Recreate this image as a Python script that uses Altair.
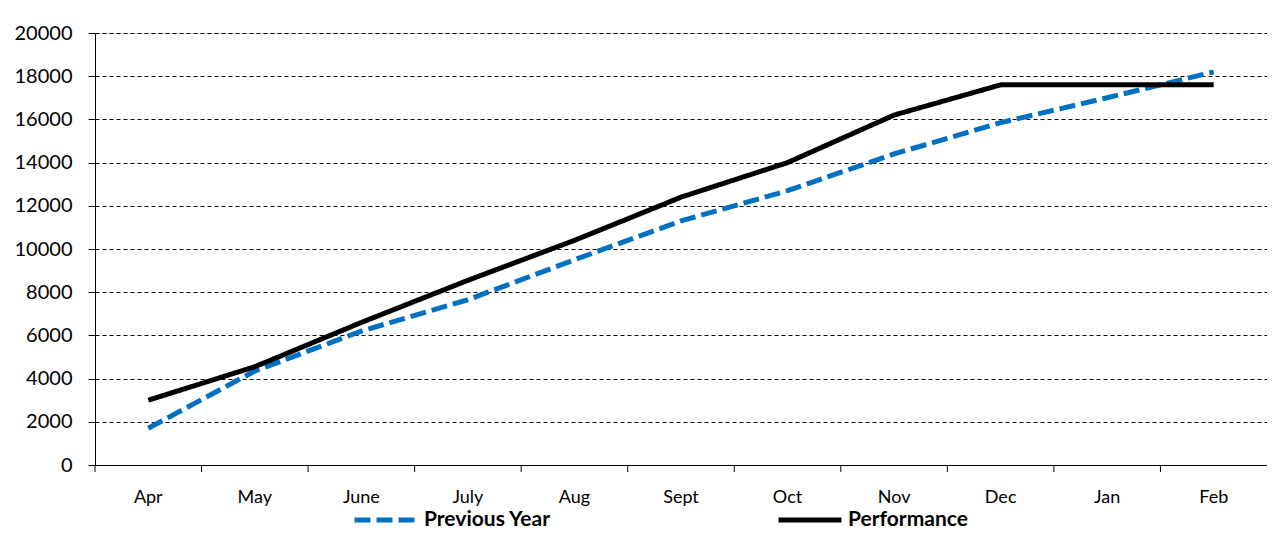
import altair as alt
import pandas as pd

months = ["Apr", "May", "June", "July", "Aug", "Sept", "Oct", "Nov", "Dec", "Jan", "Feb"]
previous_year = [1700, 4350, 6200, 7650, 9500, 11300, 12700, 14400, 15850, 17000, 18200]
performance = [3000, 4550, 6600, 8550, 10400, 12400, 14000, 16200, 17600, 17600, 17600]
series = ["Previous Year", "Performance"]
y_ticks = list(range(0, 20001, 2000))

rows = []
for m, v in zip(months, previous_year):
    rows.append({"month": m, "value": v, "series": series[0]})
for m, v in zip(months, performance):
    rows.append({"month": m, "value": v, "series": series[1]})
df = pd.DataFrame(rows)
ticks_df = pd.DataFrame({"month": months})

W, H = 1172, 432
FONT = "Lato"

xscale = alt.Scale(type="band", domain=months, paddingInner=0, paddingOuter=0)

legend_kw = dict(title=None, orient="none", legendX=257, legendY=453,
                 direction="horizontal", symbolType="stroke",
                 symbolSize=3969, symbolStrokeWidth=5,
                 labelFont=FONT, labelFontSize=21, labelFontWeight="bold",
                 labelColor="black", columnPadding=217, labelOffset=4)

lines = alt.Chart(df).mark_line(strokeWidth=5, strokeCap="butt", strokeJoin="miter").encode(
    x=alt.X("month:N", sort=months, scale=xscale, bandPosition=0.5,
            axis=alt.Axis(title=None, ticks=False, tickSize=0, labelPadding=32,
                          bandPosition=0.5, labelAlign="center",
                          labelFontSize=18, labelColor="black", labelFont=FONT,
                          domainColor="black", domainWidth=1, grid=False, labelAngle=0)),
    y=alt.Y("value:Q", scale=alt.Scale(domain=[0, 20000], nice=False),
            axis=alt.Axis(title=None, values=y_ticks, format="d", tickSize=7, tickColor="black",
                          labelFontSize=20, labelFont=FONT, labelColor="black", labelPadding=16,
                          domainColor="black", domainWidth=1,
                          grid=True, gridColor="black", gridDash=[4, 3], gridWidth=1)),
    color=alt.Color("series:N", scale=alt.Scale(domain=series, range=["#0070C0", "#000000"]),
                    legend=alt.Legend(**legend_kw)),
    strokeDash=alt.StrokeDash("series:N", scale=alt.Scale(domain=series, range=[[16, 6], [1, 0]]),
                              legend=alt.Legend(**legend_kw)),
    order=alt.Order("series:N"),
)

tick_rules = alt.Chart(ticks_df).mark_rule(color="black", strokeWidth=1).encode(
    x=alt.X("month:N", sort=months, scale=xscale, bandPosition=0),
    y=alt.value(H),
    y2=alt.value(H + 7),
)

chart = alt.layer(tick_rules, lines).properties(
    width=W, height=H,
    autosize=alt.AutoSizeParams(type="none"),
    padding={"left": 87, "top": 25, "right": 0, "bottom": 64},
).configure_view(stroke=None).configure(background="white")

chart.save("out.html", embed_options={"renderer": "svg", "actions": False})
